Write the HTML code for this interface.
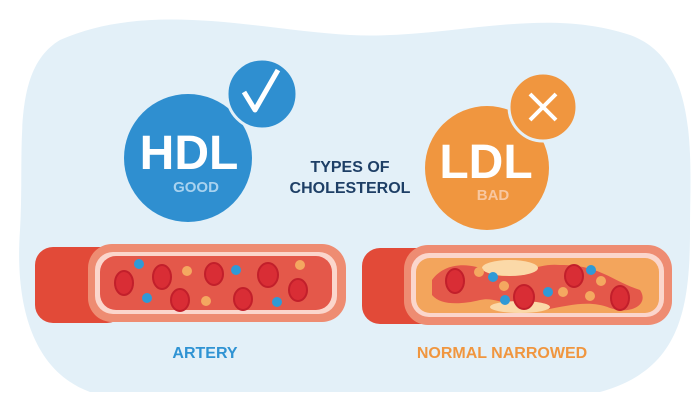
<!DOCTYPE html>
<html><head><style>body{margin:0;background:#fff}svg{display:block}</style></head><body>
<svg width="700" height="400" viewBox="0 0 700 400" xmlns="http://www.w3.org/2000/svg" font-family="Liberation Sans, sans-serif" font-weight="bold">
<path d="M60 40 C150 0 260 30 350 35 C450 40 540 5 630 35 C700 60 690 160 690 230 C690 310 680 370 600 392 L90 392 C30 370 15 300 20 230 C25 150 10 70 60 40Z" fill="#e3f0f8"/>
<circle cx="188" cy="158" r="64" fill="#2f8fd0"/>
<circle cx="262" cy="94" r="35" fill="#2f8fd0" stroke="#e3f0f8" stroke-width="3"/>
<path d="M244 92 L255 110 L278 70" fill="none" stroke="#fff" stroke-width="5" stroke-linejoin="round"/>
<text x="189" y="169" font-size="48" fill="#fff" text-anchor="middle">HDL</text>
<text x="196" y="192" font-size="15" fill="#a8d2ef" text-anchor="middle">GOOD</text>
<circle cx="487" cy="168" r="62" fill="#f0963f"/>
<circle cx="543" cy="107" r="34" fill="#f0963f" stroke="#e3f0f8" stroke-width="3"/>
<path d="M530 94 L556 120 M556 94 L530 120" stroke="#fff" stroke-width="4"/>
<text x="486" y="178" font-size="48" fill="#fff" text-anchor="middle">LDL</text>
<text x="493" y="200" font-size="15" fill="#f8c7a0" text-anchor="middle">BAD</text>
<text x="350" y="172" font-size="16" fill="#1e3f66" text-anchor="middle">TYPES OF</text>
<text x="350" y="193" font-size="16" fill="#1e3f66" text-anchor="middle">CHOLESTEROL</text>
<rect x="35" y="247" width="90" height="76" rx="18" fill="#e24a38"/>
<rect x="88" y="244" width="258" height="78" rx="24" fill="#ee8c72"/>
<rect x="95" y="252" width="242" height="62" rx="18" fill="#fbd6cc"/>
<rect x="100" y="256" width="232" height="54" rx="16" fill="#e4584a"/>
<g fill="#d92d35" stroke="#c21f2b" stroke-width="2">
<ellipse cx="124" cy="283" rx="9" ry="12"/><ellipse cx="162" cy="277" rx="9" ry="12"/><ellipse cx="214" cy="274" rx="9" ry="11"/><ellipse cx="268" cy="275" rx="10" ry="12"/><ellipse cx="298" cy="290" rx="9" ry="11"/><ellipse cx="180" cy="300" rx="9" ry="11"/><ellipse cx="243" cy="299" rx="9" ry="11"/></g>
<g fill="#2f9ad6"><circle cx="139" cy="264" r="5"/><circle cx="236" cy="270" r="5"/><circle cx="147" cy="298" r="5"/><circle cx="277" cy="302" r="5"/></g>
<g fill="#f4a860"><circle cx="187" cy="271" r="5"/><circle cx="300" cy="265" r="5"/><circle cx="206" cy="301" r="5"/></g>
<rect x="362" y="248" width="90" height="76" rx="18" fill="#e24a38"/>
<rect x="404" y="245" width="268" height="80" rx="24" fill="#ee8c72"/>
<rect x="411" y="253" width="253" height="64" rx="18" fill="#fbd6cc"/>
<rect x="416" y="258" width="243" height="55" rx="14" fill="#f3a55c"/>
<path d="M432 280 C445 262 470 262 490 272 C510 285 530 262 560 265 C600 265 610 280 640 290 C650 305 630 315 610 308 C590 300 570 305 545 310 C520 315 500 295 480 300 C460 305 440 305 432 295Z" fill="#e4584a"/>
<g fill="#fbd9a8"><ellipse cx="510" cy="268" rx="28" ry="8"/><ellipse cx="520" cy="307" rx="30" ry="6"/></g>
<g fill="#d92d35" stroke="#c21f2b" stroke-width="2"><ellipse cx="455" cy="281" rx="9" ry="12"/><ellipse cx="524" cy="297" rx="10" ry="12"/><ellipse cx="574" cy="276" rx="9" ry="11"/><ellipse cx="620" cy="298" rx="9" ry="12"/></g>
<g fill="#2f9ad6"><circle cx="493" cy="277" r="5"/><circle cx="505" cy="300" r="5"/><circle cx="548" cy="292" r="5"/><circle cx="591" cy="270" r="5"/></g>
<g fill="#f4a860"><circle cx="479" cy="272" r="5"/><circle cx="504" cy="286" r="5"/><circle cx="563" cy="292" r="5"/><circle cx="601" cy="281" r="5"/><circle cx="590" cy="296" r="5"/></g>
<text x="205" y="358" font-size="16" fill="#2f93d3" text-anchor="middle">ARTERY</text>
<text x="502" y="358" font-size="16" fill="#f0963f" text-anchor="middle">NORMAL NARROWED</text>
</svg>
</body></html>
